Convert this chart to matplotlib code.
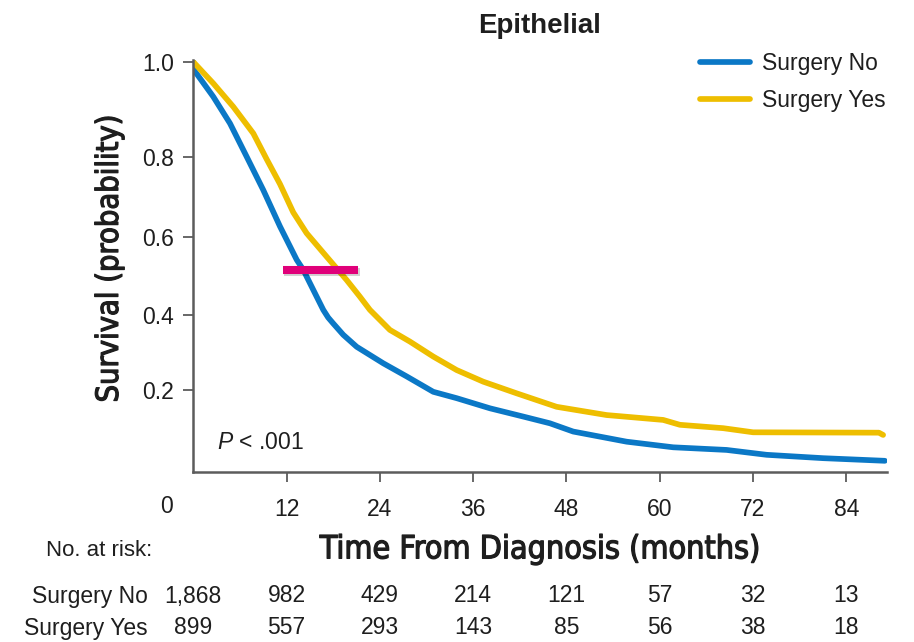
import numpy as np
import matplotlib
matplotlib.use("Agg")
import matplotlib.pyplot as plt
import matplotlib.transforms as mtransforms
import matplotlib.patheffects as pe
from matplotlib import font_manager

# ---------------------------------------------------------
# Fonts
# ---------------------------------------------------------
installed = {f.name for f in font_manager.fontManager.ttflist}
BASE = "Liberation Sans" if "Liberation Sans" in installed else "DejaVu Sans"

plt.rcParams["font.family"] = [BASE, "DejaVu Sans"]
plt.rcParams["mathtext.fontset"] = "custom"
plt.rcParams["mathtext.it"] = BASE + ":italic"
plt.rcParams["mathtext.rm"] = BASE


def condensed_face():
    # a narrow upright face for the axis titles, if one is installed
    picks = []
    for f in font_manager.fontManager.ttflist:
        name = f.name.lower()
        narrow = (f.stretch in ("condensed", "semi-condensed", "extra-condensed")
                  or "narrow" in name or "condensed" in name)
        if not narrow or f.style != "normal":
            continue
        bold = "bold" in f.fname.lower() or str(f.weight) in ("bold", "700", "600", "semibold")
        picks.append((1 if bold else 0, f.fname))
    if picks:
        picks.sort()
        return font_manager.FontProperties(fname=picks[0][1])
    return font_manager.FontProperties(family=BASE)


# ---------------------------------------------------------
# Data: Kaplan-Meier estimates (months, survival probability)
# ---------------------------------------------------------
t_no = [0.0, 0.22, 2.57, 4.72, 6.87, 9.00, 11.15, 13.30, 14.15, 15.87, 16.72, 17.35, 18.01,
        19.29, 21.02, 24.44, 27.45, 30.87, 33.88, 38.16, 42.44, 45.88, 48.87, 55.74,
        61.74, 68.60, 73.75, 81.03, 88.97]
s_no = [1.0, 0.980, 0.927, 0.871, 0.801, 0.718, 0.627, 0.542, 0.516, 0.447, 0.413, 0.393,
        0.377, 0.347, 0.315, 0.271, 0.236, 0.195, 0.178, 0.151, 0.129, 0.111, 0.089,
        0.062, 0.047, 0.040, 0.027, 0.018, 0.011]

t_yes = [0.0, 2.57, 5.14, 7.72, 9.44, 11.15, 12.86, 14.58, 17.15, 19.72, 21.43,
         22.72, 25.29, 27.86, 30.87, 33.88, 37.30, 41.59, 46.74, 53.17, 60.45,
         62.60, 68.17, 72.02, 88.20, 88.74]
s_yes = [1.0, 0.955, 0.906, 0.850, 0.795, 0.733, 0.662, 0.610, 0.550, 0.490, 0.447,
         0.413, 0.360, 0.329, 0.289, 0.253, 0.222, 0.191, 0.155, 0.133, 0.120,
         0.107, 0.098, 0.087, 0.086, 0.080]

# median survival marker
median_t = [11.5, 21.2]
median_s = 0.515

risk_times = [0, 12, 24, 36, 48, 60, 72, 84]
risk_no = ["1,868", "982", "429", "214", "121", "57", "32", "13"]
risk_yes = ["899", "557", "293", "143", "85", "56", "38", "18"]

y_ticks = [0.2, 0.4, 0.6, 0.8, 1.0]
x_ticks = [12, 24, 36, 48, 60, 72, 84]

BLUE = "#0B78C6"
YELLOW = "#EEBE00"
MAGENTA = "#E0007A"
AXIS = "#5c5c5c"
TEXT = "#1e1e1e"

# ---------------------------------------------------------
# y scale with uneven tick spacing
# ---------------------------------------------------------
_vals = np.array([-1.0, 0.0, 0.2, 0.4, 0.6, 0.8, 1.0, 2.0])
_hgt = np.array([-375.0, 0.0, 75.0, 150.0, 227.7, 307.7, 403.0, 879.5])


def _fwd(v):
    return np.interp(v, _vals, _hgt)


def _inv(h):
    return np.interp(h, _hgt, _vals)


# ---------------------------------------------------------
# Plot
# ---------------------------------------------------------
fig = plt.figure(figsize=(9.14, 6.42), dpi=100)
ax = fig.add_axes([0.2115, 0.2653, 0.7586, 0.6412])
ax.set_yscale("function", functions=(_fwd, _inv))

ax.plot(t_no, s_no, color=BLUE, lw=4.1, solid_capstyle="round", label="Surgery No")
ax.plot(t_yes, s_yes, color=YELLOW, lw=4.1, solid_capstyle="round", label="Surgery Yes")
ax.plot(median_t, [median_s, median_s], color=MAGENTA, lw=5.8, solid_capstyle="butt",
        path_effects=[pe.SimpleLineShadow(offset=(1.2, -1.2), alpha=0.18), pe.Normal()])

ax.set_xlim(0, 89.2)
ax.set_ylim(-0.018, 1.004)
ax.set_xticks(x_ticks)
ax.set_xticklabels([str(x) for x in x_ticks])
ax.set_yticks(y_ticks)
ax.set_yticklabels([f"{y:.1f}" for y in y_ticks])
ax.minorticks_off()

for side in ("top", "right"):
    ax.spines[side].set_visible(False)
for side in ("left", "bottom"):
    ax.spines[side].set_color(AXIS)
    ax.spines[side].set_linewidth(1.8)

ax.tick_params(axis="both", direction="out", length=7, width=1.3, color=AXIS,
               labelsize=16.5, labelcolor=TEXT)
ax.tick_params(axis="y", pad=7)
ax.tick_params(axis="x", pad=12)

# "0" sits left of the corner, not under it
ax.text(-3.5, 0.2103, "0", transform=mtransforms.blended_transform_factory(ax.transData, fig.transFigure),
        ha="center", va="center", fontsize=16.5, color=TEXT)

label_font = condensed_face()
heavy = [pe.withStroke(linewidth=0.9, foreground=TEXT)]
ylab = ax.set_ylabel("Survival (probability)", fontproperties=label_font.copy(),
                     color=TEXT, va="center", path_effects=heavy)
ax.yaxis.set_label_coords(-0.121, 0.519)
xlab = ax.set_xlabel("Time From Diagnosis (months)", fontproperties=label_font.copy(),
                     color=TEXT, va="center", path_effects=heavy)
ax.xaxis.set_label_coords(0.5, -0.190)

# size the axis titles to their printed length (pixels)
ylab.set_fontsize(24)
xlab.set_fontsize(27)
fig.canvas.draw()
ylab.set_fontsize(24 * 289 / ylab.get_window_extent().height)
xlab.set_fontsize(27 * 440 / xlab.get_window_extent().width)

fig.text(540 / 914, 1 - 33 / 642, "Epithelial", ha="center", va="baseline",
         fontsize=20, fontweight="bold", color=TEXT)

ax.text(3.1, 0.059, r"$P$ < .001", ha="left", va="center", fontsize=16.5, color=TEXT)

leg = ax.legend(loc="upper left", bbox_to_anchor=(700 / 914, 1 - 52 / 642),
                bbox_transform=fig.transFigure, frameon=False, fontsize=16.5,
                handlelength=2.2, handletextpad=0.5, labelspacing=0.6,
                borderpad=0, borderaxespad=0)
for txt in leg.get_texts():
    txt.set_color(TEXT)

# number at risk table
risk_tf = mtransforms.blended_transform_factory(ax.transData, fig.transFigure)
fig.text(152 / 914, 1 - 550 / 642, "No. at risk:", ha="right", va="center",
         fontsize=16, color=TEXT)
fig.text(148 / 914, 1 - 596 / 642, "Surgery No", ha="right", va="center",
         fontsize=16.5, color=TEXT)
fig.text(148 / 914, 1 - 628 / 642, "Surgery Yes", ha="right", va="center",
         fontsize=16.5, color=TEXT)
for t, n_no, n_yes in zip(risk_times, risk_no, risk_yes):
    ax.text(t, 1 - 596 / 642, n_no, transform=risk_tf, ha="center", va="center",
            fontsize=16.5, color=TEXT)
    ax.text(t, 1 - 628 / 642, n_yes, transform=risk_tf, ha="center", va="center",
            fontsize=16.5, color=TEXT)

fig.savefig("out.png", dpi=100)
